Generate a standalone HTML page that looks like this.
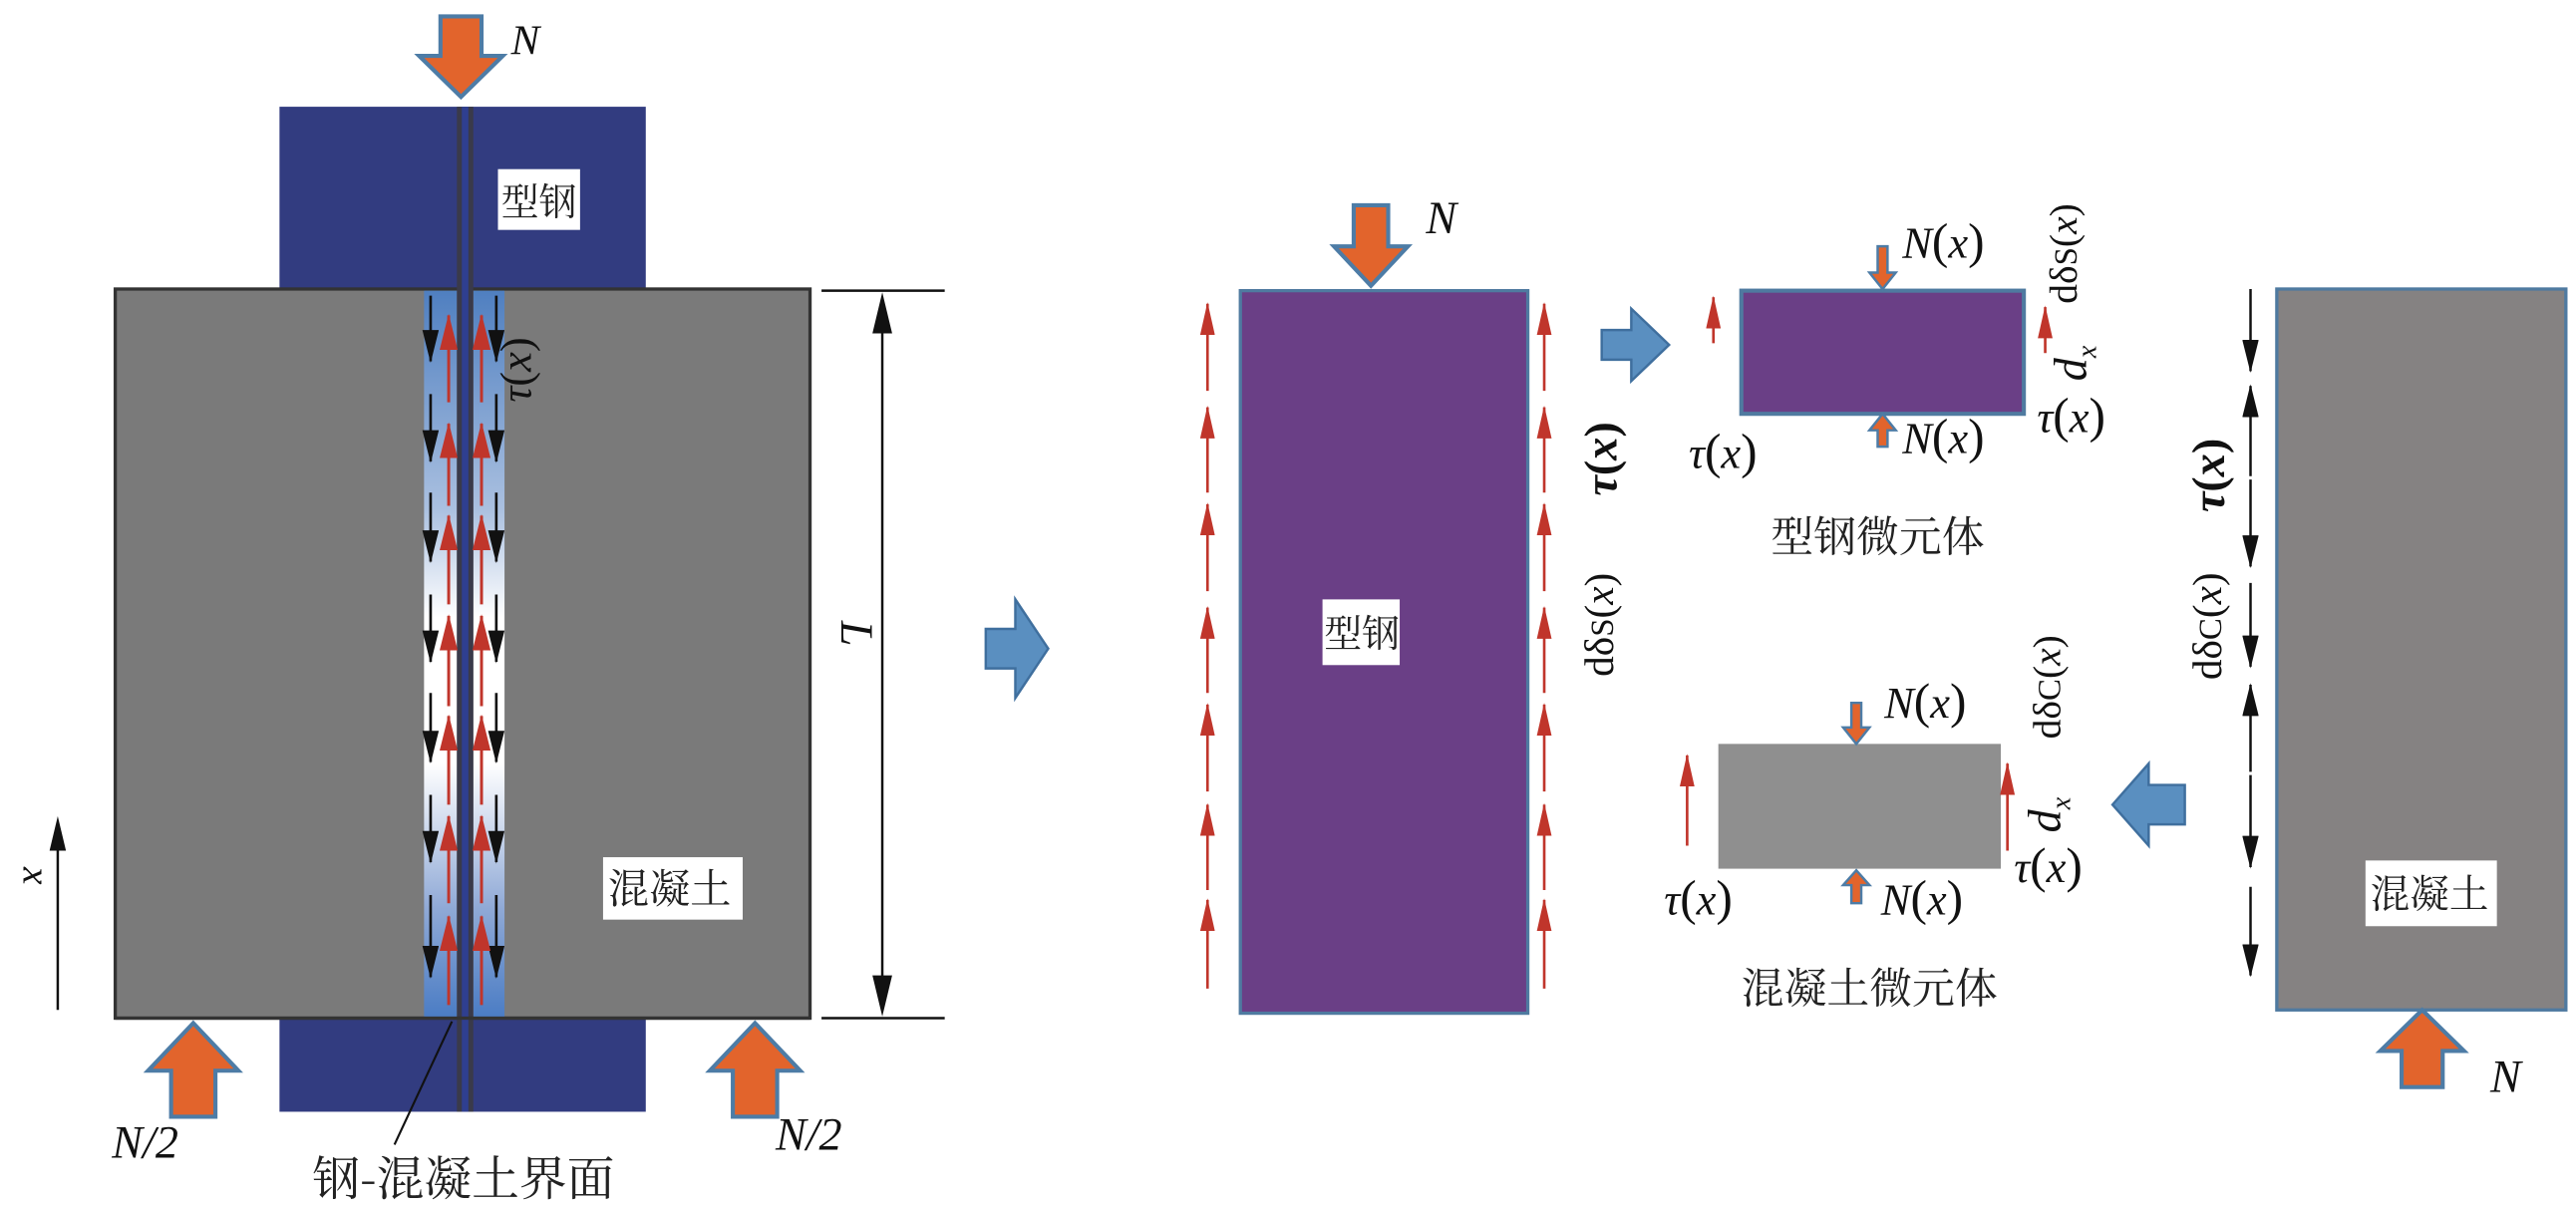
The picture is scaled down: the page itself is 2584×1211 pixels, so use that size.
<!DOCTYPE html>
<html><head><meta charset="utf-8"><style>
html,body{margin:0;padding:0;background:#fff;}
svg{display:block;}
.m{font-family:"Liberation Serif","Noto Serif CJK SC",serif;font-style:italic;fill:#111;}
.r{font-family:"Liberation Serif","Noto Serif CJK SC",serif;fill:#111;}
.c{font-family:"Noto Serif CJK SC","Liberation Serif",serif;fill:#222;}
</style></head><body>
<svg width="2584" height="1211" viewBox="0 0 1568 735" xmlns="http://www.w3.org/2000/svg">
<defs>
<linearGradient id="g" x1="0" y1="0" x2="0" y2="1">
<stop offset="0" stop-color="#4f7fc0"/><stop offset="0.3" stop-color="#aac0e0"/>
<stop offset="0.45" stop-color="#ffffff"/><stop offset="0.65" stop-color="#ffffff"/>
<stop offset="0.85" stop-color="#8fa9d6"/><stop offset="1" stop-color="#4a7cc4"/>
</linearGradient>
<marker id="rd" markerUnits="userSpaceOnUse" markerWidth="20" markerHeight="9" refX="19" refY="4.5" orient="auto" viewBox="0 0 20 9"><path d="M0,0 L20,4.5 L0,9 Z" fill="#c0352b"/></marker>
<marker id="rs" markerUnits="userSpaceOnUse" markerWidth="22" markerHeight="11" refX="21" refY="5.5" orient="auto" viewBox="0 0 22 11"><path d="M0,0 L22,5.5 L0,11 Z" fill="#c0352b"/></marker>
<marker id="kd" markerUnits="userSpaceOnUse" markerWidth="20" markerHeight="10" refX="19" refY="5" orient="auto" viewBox="0 0 20 10"><path d="M0,0 L20,5 L0,10 Z" fill="#111"/></marker>
</defs>

<!-- LEFT FIGURE -->
<rect x="170" y="65" width="223" height="112" fill="#323c80"/>
<rect x="170" y="620" width="223" height="57" fill="#323c80"/>
<rect x="70" y="176" width="423" height="444" fill="#7a7a7a" stroke="#333" stroke-width="2"/>
<rect x="258" y="177" width="20" height="443" fill="url(#g)"/>
<rect x="288" y="177" width="19" height="443" fill="url(#g)"/>
<rect x="278" y="65" width="10" height="612" fill="#3a3a4a"/>
<rect x="281" y="65" width="4" height="612" fill="#2f3f90"/>
<line x1="70" y1="620" x2="493" y2="620" stroke="#333" stroke-width="2"/>
<g stroke="#111" stroke-width="1.6" fill="none" marker-end="url(#kd)">
<line x1="262" y1="180" x2="262" y2="220"/><line x1="262" y1="240" x2="262" y2="281"/><line x1="262" y1="300" x2="262" y2="342"/><line x1="262" y1="362" x2="262" y2="403"/><line x1="262" y1="422" x2="262" y2="464"/><line x1="262" y1="484" x2="262" y2="525"/><line x1="262" y1="545" x2="262" y2="595"/>
<line x1="302" y1="180" x2="302" y2="220"/><line x1="302" y1="240" x2="302" y2="281"/><line x1="302" y1="300" x2="302" y2="342"/><line x1="302" y1="362" x2="302" y2="403"/><line x1="302" y1="422" x2="302" y2="464"/><line x1="302" y1="484" x2="302" y2="525"/><line x1="302" y1="545" x2="302" y2="595"/>
</g>
<g stroke="#c0352b" stroke-width="1.8" fill="none" marker-end="url(#rs)">
<line x1="273" y1="245" x2="273" y2="192"/><line x1="273" y1="308" x2="273" y2="258"/><line x1="273" y1="368" x2="273" y2="314"/><line x1="273" y1="430" x2="273" y2="375"/><line x1="273" y1="490" x2="273" y2="436"/><line x1="273" y1="550" x2="273" y2="497"/><line x1="273" y1="612" x2="273" y2="558"/>
<line x1="293" y1="245" x2="293" y2="192"/><line x1="293" y1="308" x2="293" y2="258"/><line x1="293" y1="368" x2="293" y2="314"/><line x1="293" y1="430" x2="293" y2="375"/><line x1="293" y1="490" x2="293" y2="436"/><line x1="293" y1="550" x2="293" y2="497"/><line x1="293" y1="612" x2="293" y2="558"/>
</g>
<path d="M268,10 L293,10 L293,34 L306,34 L280.5,59 L255,34 L268,34 Z" fill="#e2642c" stroke="#4d7ca6" stroke-width="2.5"/>
<text x="311" y="33" class="m" font-size="26">N</text>
<rect x="303" y="103" width="50" height="37" fill="#fff"/>
<text x="305" y="131" class="c" font-size="23">型钢</text>
<text class="m" font-size="27" transform="translate(323,245) rotate(-90)">τ<tspan font-style="normal">(</tspan>x<tspan font-style="normal">)</tspan></text>
<rect x="367" y="522" width="85" height="38" fill="#fff"/>
<text x="370" y="550" class="c" font-size="25">混凝土</text>
<line x1="500" y1="177" x2="575" y2="177" stroke="#111" stroke-width="1.5"/>
<line x1="500" y1="620" x2="575" y2="620" stroke="#111" stroke-width="1.5"/>
<line x1="537" y1="200" x2="537" y2="597" stroke="#111" stroke-width="1.5"/>
<path d="M537,178 L531,203 L543,203 Z M537,619 L531,594 L543,594 Z" fill="#111"/>
<text class="m" font-size="28" transform="translate(512,378) rotate(90)">L</text>
<line x1="35" y1="615" x2="35" y2="515" stroke="#111" stroke-width="1.5"/>
<path d="M35,497 L30,518 L40,518 Z" fill="#111"/>
<text class="m" font-size="24" transform="translate(14,528) rotate(90)">x</text>
<path d="M104,680 L131,680 L131,652 L145,652 L117.5,623 L90,652 L104,652 Z" fill="#e2642c" stroke="#4d7ca6" stroke-width="2.5"/>
<path d="M446,680 L473,680 L473,652 L487,652 L459.5,623 L432,652 L446,652 Z" fill="#e2642c" stroke="#4d7ca6" stroke-width="2.5"/>
<text x="68" y="705" class="m" font-size="28">N/2</text>
<text x="472" y="700" class="m" font-size="28">N/2</text>
<line x1="275" y1="622" x2="240" y2="697" stroke="#111" stroke-width="1.3"/>
<text x="190" y="728" class="c" font-size="29">钢-混凝土界面</text>

<path d="M600,383 L618,383 L618,365 L638,395 L618,425 L618,407 L600,407 Z" fill="#5a8fc0" stroke="#3f6f9e" stroke-width="1.5"/>

<!-- MIDDLE STEEL -->
<rect x="755" y="177" width="175" height="440" fill="#6a3f86" stroke="#4f7aa0" stroke-width="2"/>
<path d="M824,125 L845,125 L845,150 L857,150 L834.5,174 L812,150 L824,150 Z" fill="#e2642c" stroke="#4d7ca6" stroke-width="2.5"/>
<text x="868" y="142" class="m" font-size="28">N</text>
<rect x="805" y="365" width="47" height="40" fill="#fff"/>
<text x="806" y="394" class="c" font-size="23">型钢</text>
<g stroke="#c0352b" stroke-width="1.6" fill="none" marker-end="url(#rd)">
<line x1="735" y1="238" x2="735" y2="185"/><line x1="735" y1="300" x2="735" y2="248"/><line x1="735" y1="360" x2="735" y2="307"/><line x1="735" y1="422" x2="735" y2="370"/><line x1="735" y1="482" x2="735" y2="429"/><line x1="735" y1="542" x2="735" y2="490"/><line x1="735" y1="602" x2="735" y2="548"/>
<line x1="940" y1="238" x2="940" y2="185"/><line x1="940" y1="300" x2="940" y2="248"/><line x1="940" y1="360" x2="940" y2="307"/><line x1="940" y1="422" x2="940" y2="370"/><line x1="940" y1="482" x2="940" y2="429"/><line x1="940" y1="542" x2="940" y2="490"/><line x1="940" y1="602" x2="940" y2="548"/>
</g>
<text class="m" font-size="28" font-weight="bold" transform="translate(984,302) rotate(-90)">τ<tspan font-style="normal">(</tspan>x<tspan font-style="normal">)</tspan></text>
<text class="r" font-size="25" transform="translate(982,412) rotate(-90)">dδ<tspan font-size="20">S</tspan>(<tspan font-style="italic">x</tspan>)</text>

<path d="M975,201 L993,201 L993,188 L1016,210 L993,232 L993,219 L975,219 Z" fill="#5a8fc0" stroke="#3f6f9e" stroke-width="1.5"/>

<!-- small steel element -->
<rect x="1060" y="177" width="172" height="75" fill="#6a3f86" stroke="#4f7aa0" stroke-width="2.5"/>
<path d="M1143,150 L1149,150 L1149,166 L1154,166 L1146,176 L1138,166 L1143,166 Z" fill="#e2642c" stroke="#4d7ca6" stroke-width="1.5"/>
<path d="M1143,272 L1149,272 L1149,262 L1154,262 L1146,252 L1138,262 L1143,262 Z" fill="#e2642c" stroke="#4d7ca6" stroke-width="1.5"/>
<g stroke="#c0352b" stroke-width="1.6" fill="none" marker-end="url(#rd)">
<line x1="1043" y1="209" x2="1043" y2="181"/><line x1="1245" y1="215" x2="1245" y2="187"/>
</g>
<text x="1158" y="157" class="m" font-size="27">N<tspan font-style="normal" font-size="30">(</tspan>x<tspan font-style="normal" font-size="30">)</tspan></text>
<text x="1158" y="276" class="m" font-size="27">N<tspan font-style="normal" font-size="30">(</tspan>x<tspan font-style="normal" font-size="30">)</tspan></text>
<text x="1028" y="285" class="m" font-size="27">τ<tspan font-style="normal" font-size="30">(</tspan>x<tspan font-style="normal" font-size="30">)</tspan></text>
<text x="1240" y="263" class="m" font-size="27">τ<tspan font-style="normal" font-size="30">(</tspan>x<tspan font-style="normal" font-size="30">)</tspan></text>
<text class="r" font-size="24" transform="translate(1264,185) rotate(-90)">dδ<tspan font-size="20">S</tspan>(<tspan font-style="italic">x</tspan>)</text>
<text class="m" font-size="28" transform="translate(1270,232) rotate(-90)">d<tspan font-size="17" dy="6">x</tspan></text>
<text x="1078" y="336" class="c" font-size="26">型钢微元体</text>

<!-- concrete element -->
<rect x="1046" y="453" width="172" height="76" fill="#8f8f8f"/>
<path d="M1127,428 L1133,428 L1133,443 L1138,443 L1130,453 L1122,443 L1127,443 Z" fill="#e2642c" stroke="#4d7ca6" stroke-width="1.5"/>
<path d="M1127,550 L1133,550 L1133,539 L1138,539 L1130,530 L1122,539 L1127,539 Z" fill="#e2642c" stroke="#4d7ca6" stroke-width="1.5"/>
<g stroke="#c0352b" stroke-width="1.6" fill="none" marker-end="url(#rd)">
<line x1="1027" y1="515" x2="1027" y2="460"/><line x1="1222" y1="518" x2="1222" y2="465"/>
</g>
<text x="1147" y="437" class="m" font-size="27">N<tspan font-style="normal" font-size="30">(</tspan>x<tspan font-style="normal" font-size="30">)</tspan></text>
<text x="1145" y="557" class="m" font-size="27">N<tspan font-style="normal" font-size="30">(</tspan>x<tspan font-style="normal" font-size="30">)</tspan></text>
<text x="1013" y="557" class="m" font-size="27">τ<tspan font-style="normal" font-size="30">(</tspan>x<tspan font-style="normal" font-size="30">)</tspan></text>
<text x="1226" y="537" class="m" font-size="27">τ<tspan font-style="normal" font-size="30">(</tspan>x<tspan font-style="normal" font-size="30">)</tspan></text>
<text class="r" font-size="24" transform="translate(1254,450) rotate(-90)">dδ<tspan font-size="20">C</tspan>(<tspan font-style="italic">x</tspan>)</text>
<text class="m" font-size="28" transform="translate(1254,507) rotate(-90)">d<tspan font-size="17" dy="6">x</tspan></text>
<text x="1060" y="611" class="c" font-size="26">混凝土微元体</text>

<path d="M1330,478 L1308,478 L1308,465 L1286,490 L1308,515 L1308,502 L1330,502 Z" fill="#5a8fc0" stroke="#3f6f9e" stroke-width="1.5"/>

<!-- right concrete -->
<rect x="1386" y="176" width="176" height="439" fill="#858282" stroke="#4f7aa0" stroke-width="2"/>
<g stroke="#111" stroke-width="1.5" fill="none" marker-end="url(#kd)">
<line x1="1370" y1="176" x2="1370" y2="226"/>
<line x1="1370" y1="290" x2="1370" y2="235"/>
<line x1="1370" y1="292" x2="1370" y2="345"/>
<line x1="1370" y1="355" x2="1370" y2="406"/>
<line x1="1370" y1="470" x2="1370" y2="417"/>
<line x1="1370" y1="472" x2="1370" y2="528"/>
<line x1="1370" y1="540" x2="1370" y2="594"/>
</g>
<text class="m" font-size="28" font-weight="bold" transform="translate(1354,312) rotate(-90)">τ<tspan font-style="normal">(</tspan>x<tspan font-style="normal">)</tspan></text>
<text class="r" font-size="25" transform="translate(1352,414) rotate(-90)">dδ<tspan font-size="20">C</tspan>(<tspan font-style="italic">x</tspan>)</text>
<rect x="1440" y="524" width="80" height="40" fill="#fff"/>
<text x="1443" y="553" class="c" font-size="24">混凝土</text>
<path d="M1462,662 L1487,662 L1487,640 L1500,640 L1474.5,615 L1449,640 L1462,640 Z" fill="#e2642c" stroke="#4d7ca6" stroke-width="2.5"/>
<text x="1516" y="665" class="m" font-size="28">N</text>
</svg>
</body></html>
